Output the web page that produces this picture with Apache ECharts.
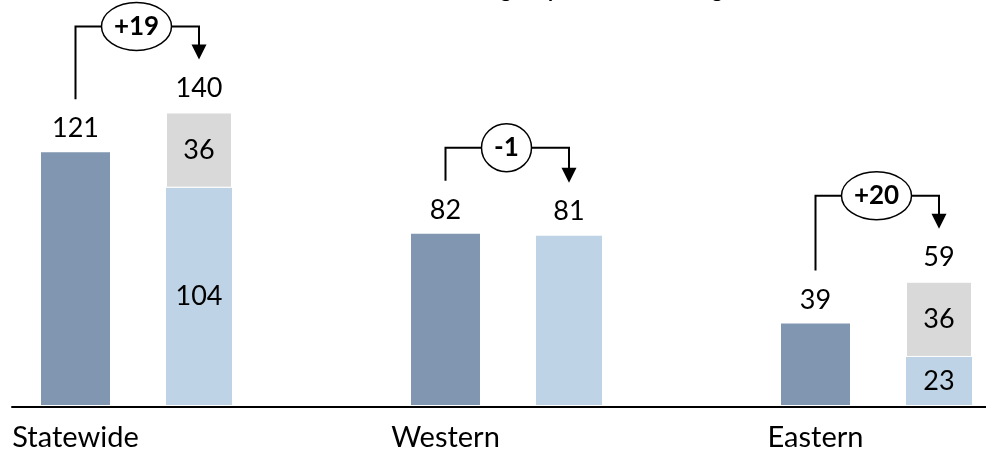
<!DOCTYPE html>
<html>
<head>
<meta charset="utf-8">
<script src="https://cdn.jsdelivr.net/npm/echarts@6/dist/echarts.min.js"></script>
<style>
html,body{margin:0;padding:0;background:#fff;}
#chart{width:986px;height:452px;}
</style>
</head>
<body>
<div id="chart"></div>
<script>
// ---- data ----
var categories = ['Statewide', 'Western', 'Eastern'];
var baseValues = [121, 82, 39];          // dark bars
var fundedValues = [104, 81, 23];        // light-blue segment
var addedValues = [36, 0, 36];           // gray segment
var totalValues = [140, 81, 59];         // label above right stack
var deltaLabels = ['+19', '-1', '+20'];
var titleText = 'Units Needed vs. Agency Funded Housing';

// ---- style constants ----
var FONT = 'Lato';
var DARK_W = 69, LIGHT_W = 66, GAP = '81.16%';
var DARK_OFF = -61, LIGHT_OFF = 62.5;

var chart = echarts.init(document.getElementById('chart'));

function labelFont(size, weight) {
  return { fontFamily: FONT, fontSize: size, color: '#000', fontWeight: weight || 'normal' };
}

var option = {
  animation: false,
  title: {
    text: titleText,
    right: 258,
    top: -27,
    textStyle: { fontFamily: FONT, fontSize: 22, fontWeight: 'bold', color: '#000', lineHeight: 24 }
  },
  grid: [
    { left: 136.5, right: 109.5, top: 8, bottom: 45 },
    { left: 12, right: 0, top: 8, bottom: 45 }
  ],
  xAxis: [
    {
      type: 'category', data: categories, gridIndex: 0, boundaryGap: false,
      axisLine: { show: false }, axisTick: { show: false },
      axisLabel: Object.assign(labelFont(29), { margin: 18, padding: [0, 122, 0, 0], align: 'center' })
    },
    {
      type: 'category', data: [''], gridIndex: 1,
      axisLine: { show: true, lineStyle: { color: '#000', width: 2 } },
      axisTick: { show: false }, axisLabel: { show: false }
    }
  ],
  yAxis: [
    { type: 'value', min: 0, max: 190, show: false, gridIndex: 0 },
    { type: 'value', min: 0, max: 190, show: false, gridIndex: 1 }
  ],
  series: [
    {
      type: 'bar', name: 'Base', stack: 'a', barWidth: DARK_W, barGap: GAP,
      data: baseValues,
      itemStyle: { color: '#8196B1' },
      label: Object.assign({ show: true, position: 'top', distance: 10 }, labelFont(27))
    },
    {
      type: 'bar', name: 'Funded', stack: 'b', barWidth: LIGHT_W, barGap: GAP,
      data: fundedValues.map(function (v, i) {
        return { value: v, label: { show: addedValues[i] > 0 } };
      }),
      itemStyle: { color: '#BED3E5' },
      label: Object.assign({ show: true, position: 'inside' }, labelFont(27))
    },
    {
      type: 'bar', name: 'Added', stack: 'b', barWidth: LIGHT_W, barGap: GAP,
      data: addedValues.map(function (v) { return v > 0 ? v : null; }),
      itemStyle: { color: '#D9D9D9', borderColor: '#fff', borderWidth: 1 },
      label: Object.assign({ show: true, position: 'inside' }, labelFont(27))
    },
    {
      type: 'bar', name: 'Total', stack: 'b', barWidth: LIGHT_W, barGap: GAP,
      data: totalValues.map(function () { return 0; }),
      itemStyle: { color: 'rgba(0,0,0,0)' },
      label: Object.assign({
        show: true, position: 'top', distance: 11,
        formatter: function (p) { return totalValues[p.dataIndex]; }
      }, labelFont(27))
    },
    {
      type: 'custom', name: 'Change', clip: false, z: 10,
      data: categories.map(function (c, i) { return [i, baseValues[i], totalValues[i]]; }),
      encode: { x: 0, y: [1, 2] },
      renderItem: function (params, api) {
        var i = api.value(0);
        var c = api.coord([i, 0]);
        var yBase = api.coord([i, api.value(1)])[1];
        var yTot = api.coord([i, api.value(2)])[1];
        var xd = c[0] + DARK_OFF, xl = c[0] + LIGHT_OFF;
        var level = Math.min(yBase, yTot) - 86;
        var startY = yBase - 53, tipY = yTot - 53;
        var txt = deltaLabels[i];
        var rx = txt.length === 2 ? 25 : 35;
        var ry = 24;
        var stroke = { stroke: '#000', lineWidth: 2, fill: null };
        return {
          type: 'group',
          children: [
            { type: 'polyline', shape: { points: [[xd, startY], [xd, level], [c[0] - rx, level]] }, style: stroke },
            { type: 'polyline', shape: { points: [[c[0] + rx, level], [xl, level], [xl, tipY - 14]] }, style: stroke },
            { type: 'polygon', shape: { points: [[xl - 7.5, tipY - 15], [xl + 7.5, tipY - 15], [xl, tipY]] }, style: { fill: '#000' } },
            { type: 'ellipse', shape: { cx: c[0], cy: level, rx: rx, ry: ry }, style: { fill: '#fff', stroke: '#000', lineWidth: 1.5 } },
            { type: 'text', x: c[0], y: level, style: { text: txt, align: 'center', verticalAlign: 'middle', fontFamily: FONT, fontSize: 26, fontWeight: 'bold', fill: '#000' } }
          ]
        };
      }
    }
  ]
};
chart.setOption(option);
</script>
</body>
</html>
